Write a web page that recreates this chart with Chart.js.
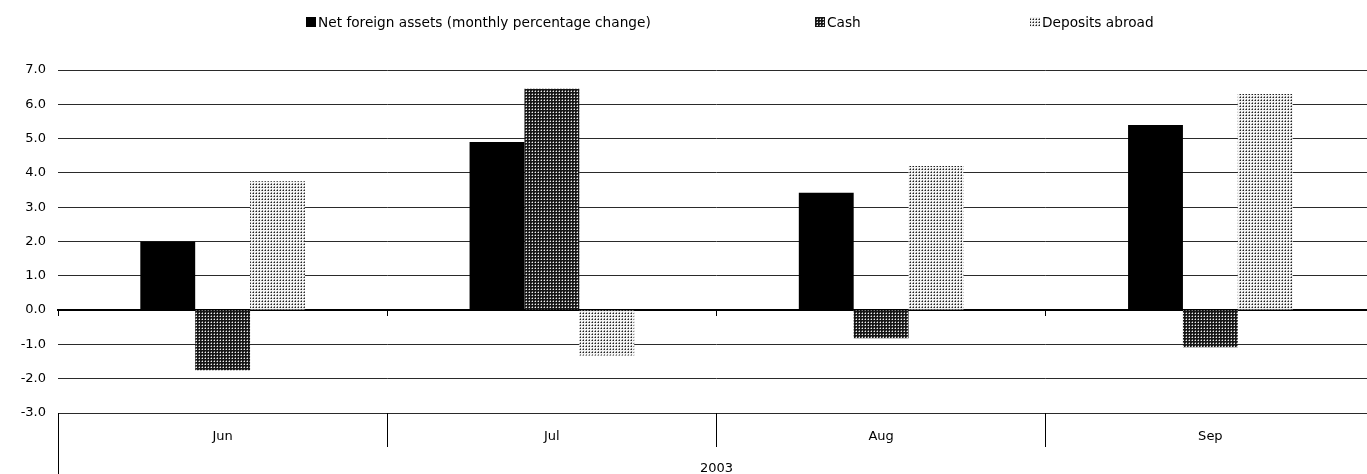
<!DOCTYPE html>
<html>
<head>
<meta charset="utf-8">
<script src="https://cdn.jsdelivr.net/npm/chart.js@4.4.1/dist/chart.umd.min.js"></script>
<style>
  html, body { margin: 0; padding: 0; background: #fff; overflow: hidden; }
  #wrap { width: 1367px; height: 474px; overflow: hidden; }
  #c { display: block; }
</style>
</head>
<body>
<div id="wrap"><canvas id="c" width="1375" height="474"></canvas></div>
<script>
// ---- data ----
const months = ['Jun', 'Jul', 'Aug', 'Sep'];
const yearLabels = ['2003'];
const netForeignAssets = [2.0, 4.9, 3.42, 5.4];
const cash = [-1.75, 6.45, -0.82, -1.08];
const depositsAbroad = [3.76, -1.32, 4.2, 6.3];
const seriesNames = ['Net foreign assets (monthly percentage change)', 'Cash', 'Deposits abroad'];
const yTicksMin = -3, yTicksMax = 7, yStep = 1;

// ---- patterns ----
function makePattern(bg, center, side) {
  const t = document.createElement('canvas');
  t.width = 3; t.height = 3;
  const g = t.getContext('2d');
  g.fillStyle = bg; g.fillRect(0, 0, 3, 3);
  g.fillStyle = side; g.fillRect(0, 1, 1, 1); g.fillRect(1, 0, 1, 1);
  g.fillStyle = center; g.fillRect(1, 1, 1, 1);
  return document.getElementById('c').getContext('2d').createPattern(t, 'repeat');
}
const cashPattern = makePattern('#161616', '#f0f0f0', '#707070');
const depPattern = makePattern('#f4f4f4', '#202020', '#8a8a8a');
const fills = ['#000000', cashPattern, depPattern];

const FONT = 'DejaVu Sans';

const legendPlugin = {
  id: 'customLegend',
  afterDraw(chart) {
    const ctx = chart.ctx;
    const xs = [306, 815, 1030];
    const y = 22;
    ctx.save();
    ctx.font = '13.7px "' + FONT + '"';
    ctx.textBaseline = 'middle';
    seriesNames.forEach((name, i) => {
      ctx.fillStyle = fills[i];
      ctx.fillRect(xs[i], y - 5, 10, 10);
      ctx.fillStyle = '#000';
      ctx.fillText(name, xs[i] + 12, y + 1);
    });
    ctx.restore();
  }
};

new Chart(document.getElementById('c'), {
  type: 'bar',
  data: {
    labels: months,
    datasets: [
      { label: seriesNames[0], data: netForeignAssets, backgroundColor: fills[0], borderWidth: 0 },
      { label: seriesNames[1], data: cash, backgroundColor: fills[1], borderWidth: 0 },
      { label: seriesNames[2], data: depositsAbroad, backgroundColor: fills[2], borderWidth: 0 }
    ]
  },
  options: {
    responsive: false,
    animation: false,
    events: [],
    categoryPercentage: 0.5,
    barPercentage: 1.0,
    layout: { padding: { top: 70, left: 0, right: 0, bottom: 0 } },
    plugins: { legend: { display: false }, tooltip: { enabled: false } },
    font: { family: FONT },
    scales: {
      y: {
        min: yTicksMin, max: yTicksMax,
        ticks: { stepSize: yStep, color: '#000', padding: 12, font: { family: FONT, size: 13 },
                 callback: v => v.toFixed(1) },
        grid: { color: '#2a2a2a', lineWidth: 1, drawTicks: false },
        border: { display: false },
        afterFit: s => { s.width = 58; }
      },
      x: {
        position: { y: 0 },
        offset: true,
        ticks: { display: false },
        grid: { offset: true, drawOnChartArea: false, tickLength: 5, color: '#000', lineWidth: 1 },
        border: { display: true, color: '#000', width: 2 }
      },
      xb: {
        type: 'category',
        labels: months,
        position: 'bottom',
        weight: 1,
        offset: true,
        ticks: { color: '#000', padding: -18, font: { family: FONT, size: 13 }, maxRotation: 0 },
        grid: { offset: true, drawOnChartArea: false, tickLength: 34, color: '#000', lineWidth: 1 },
        border: { display: false },
        afterFit: s => { s.height = 34; }
      },
      x2: {
        type: 'category',
        labels: yearLabels,
        position: 'bottom',
        weight: 2,
        offset: true,
        ticks: { color: '#000', padding: -13, font: { family: FONT, size: 13 }, maxRotation: 0 },
        grid: { offset: true, drawOnChartArea: false, tickLength: 27, color: '#000', lineWidth: 1 },
        border: { display: false },
        afterFit: s => { s.height = 27; }
      }
    }
  },
  plugins: [legendPlugin]
});
</script>
</body>
</html>
